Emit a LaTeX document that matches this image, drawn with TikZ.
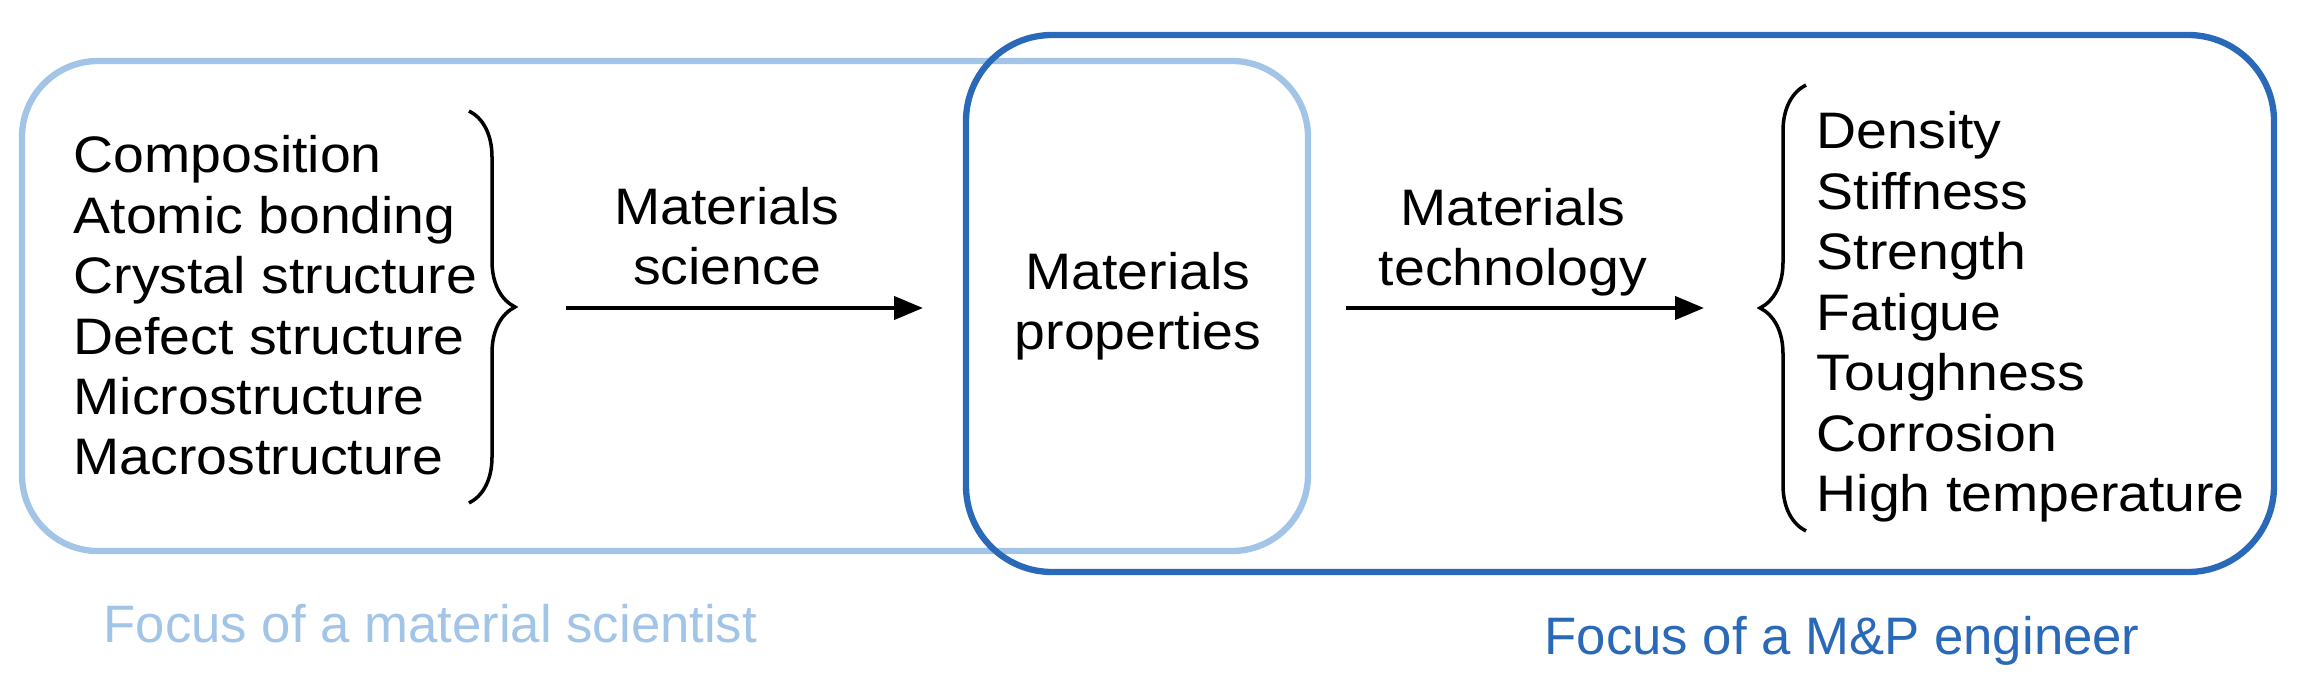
\documentclass[tikz,border=0pt]{standalone}
\usepackage{fontspec}
\setmainfont{Liberation Sans}
\newfontfamily\bodyfont[FakeStretch=1.08]{Liberation Sans}
\usetikzlibrary{arrows.meta,decorations.pathreplacing}
\definecolor{scilight}{RGB}{162,196,230}
\definecolor{engdark}{RGB}{42,105,183}
\tikzset{
  body/.style={font=\bodyfont\fontsize{14.6pt}{17.2pt}\selectfont, inner sep=0pt},
  focus/.style={font=\fontsize{15pt}{18pt}\selectfont, inner sep=0pt, anchor=base west},
  flow/.style={-{Triangle[length=2.9mm,width=2.3mm]}, line width=1.2pt},
  curly/.style={decorate, decoration={brace,amplitude=4.6mm}, line width=1pt},
}
\begin{document}
\begin{tikzpicture}
\useasboundingbox (0,0) rectangle (23.04,6.78);
% focus regions
\node[draw=scilight, line width=1.8pt, rounded corners=7.6mm, minimum width=12.86cm, minimum height=4.9cm] (scibox) at (6.65,3.72) {};
\node[draw=engdark, line width=1.8pt, rounded corners=8.6mm, minimum width=13.08cm, minimum height=5.37cm] (engbox) at (16.20,3.745) {};
\node[focus, text=scilight] (scilabel) at (1.03,0.36) {Focus of a material scientist};
\node[focus, text=engdark] (englabel) at (15.44,0.24) {Focus of a M\&P engineer};
% lists
\node[body, anchor=west, align=left] (structure) at (0.73,3.725) {Composition\\Atomic bonding\\Crystal structure\\Defect structure\\Microstructure\\Macrostructure};
\node[body, anchor=west, align=left] (props) at (18.16,3.61) {Density\\Stiffness\\Strength\\Fatigue\\Toughness\\Corrosion\\High temperature};
\node[body, align=center] (matprops) at (11.38,3.72) {Materials\\properties};
\node[body, align=center] (science) at (7.27,4.42) {Materials\\science};
\node[body, align=center] (technology) at (15.13,4.36) {Materials\\technology};
% braces
\coordinate (lbtop) at (4.69,5.67);
\coordinate (lbbot) at (4.69,1.75);
\coordinate (rbbot) at (18.06,1.47);
\coordinate (rbtop) at (18.06,5.93);
\draw[curly] (lbtop) -- (lbbot);
\draw[curly] (rbbot) -- (rbtop);
% arrows
\coordinate (sciA) at (5.66,3.70);
\coordinate (sciB) at (9.23,3.70);
\coordinate (techA) at (13.46,3.70);
\coordinate (techB) at (17.04,3.70);
\draw[flow] (sciA) -- (sciB);
\draw[flow] (techA) -- (techB);
\end{tikzpicture}
\end{document}
